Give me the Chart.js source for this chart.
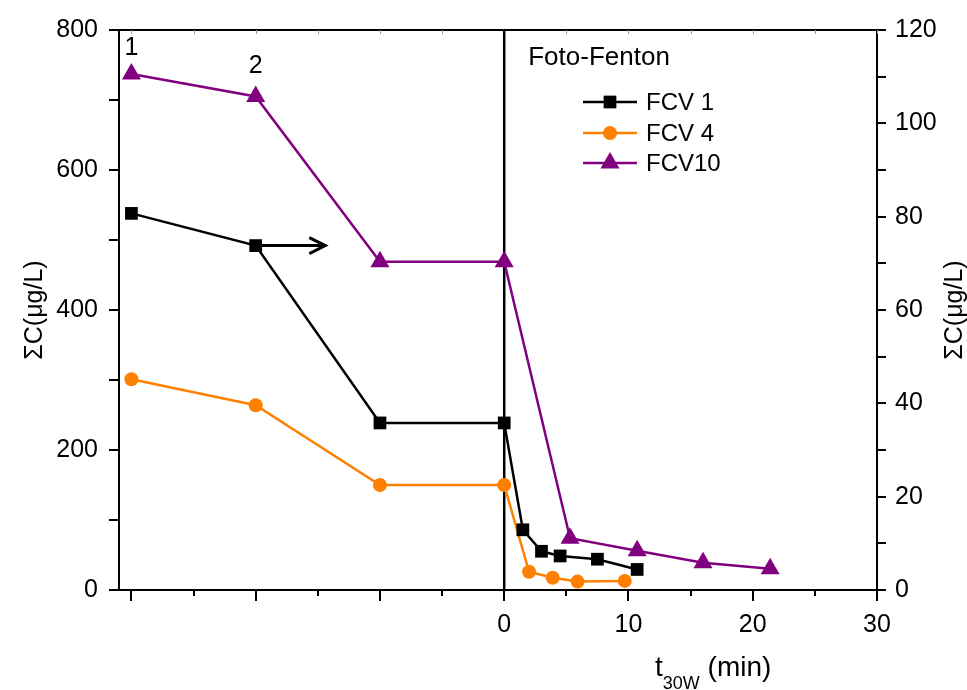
<!DOCTYPE html>
<html>
<head>
<meta charset="utf-8">
<script src="https://cdn.jsdelivr.net/npm/chart.js@4.4.0/dist/chart.umd.min.js"></script>
<style>
  html, body { margin: 0; padding: 0; background: #fff; }
  #wrap { width: 967px; height: 690px; }
</style>
</head>
<body>
<div id="wrap"><canvas id="chart"></canvas></div>
<script>
// series data (x in min, negative side = samples 1, 2, ... before photo-Fenton)
const fcv1X = [-30, -20, -10, 0, 1.5, 3.0, 4.5, 7.5, 10.7];
const fcv1Y = [80.7, 73.8, 35.8, 35.8, 12.9, 8.3, 7.3, 6.6, 4.4];   // right axis
const fcv4X = [-30, -20, -10, 0, 2.0, 3.9, 5.9, 9.7];
const fcv4Y = [301, 264, 150, 150, 26, 17.6, 12, 13];              // left axis
const fcv10X = [-30, -20, -10, 0, 5.3, 10.7, 16.0, 21.4];
const fcv10Y = [737, 705, 469, 469, 74, 56, 39, 30.5];              // left axis

const seriesNames = ['FCV 1', 'FCV 4', 'FCV10'];
const xTicks = [-30, -25, -20, -15, -10, -5, 0, 5, 10, 15, 20, 25, 30];
const xLabelTicks = [0, 10, 20, 30];
const pointLabels = ['1', '2'];
const pointLabelX = [-30, -20];
const pointLabelY = [774, 749];

// colours
const BLACK = '#000000';
const ORANGE = '#FF8000';
const PURPLE = '#800080';

const FONT = "'Liberation Sans', Arial, sans-serif";

function pts(xs, ys) {
  return xs.map((x, i) => ({ x: x, y: ys[i] }));
}

const datasets = [
  { label: seriesNames[0], data: pts(fcv1X, fcv1Y), yAxisID: 'y1',
    borderColor: BLACK, backgroundColor: BLACK, pointStyle: 'rect', pointRadius: 9 },
  { label: seriesNames[1], data: pts(fcv4X, fcv4Y), yAxisID: 'y',
    borderColor: ORANGE, backgroundColor: ORANGE, pointStyle: 'circle', pointRadius: 7 },
  { label: seriesNames[2], data: pts(fcv10X, fcv10Y), yAxisID: 'y',
    borderColor: PURPLE, backgroundColor: PURPLE, pointStyle: 'triangle', pointRadius: 11 }
].map(d => Object.assign(d, { showLine: true, borderWidth: 2.5, pointBorderWidth: 0, tension: 0, fill: false }));

// axes frame, tick marks, vertical line at t = 0
const framePlugin = {
  id: 'frame',
  beforeDatasetsDraw(chart) {
    const ctx = chart.ctx;
    const a = chart.chartArea;
    const sx = chart.scales.x, sy = chart.scales.y, sy1 = chart.scales.y1;
    ctx.save();
    ctx.strokeStyle = BLACK;
    ctx.lineWidth = 2;
    ctx.beginPath();
    ctx.rect(a.left, a.top, a.right - a.left, a.bottom - a.top);
    ctx.stroke();

    // x ticks
    ctx.beginPath();
    xTicks.forEach(v => {
      const px = Math.round(sx.getPixelForValue(v));
      const len = v % 10 === 0 ? 11 : 6;
      ctx.moveTo(px, a.bottom);
      ctx.lineTo(px, a.bottom + len);
    });
    // left ticks
    sy.ticks.forEach(t => {
      const py = Math.round(sy.getPixelForValue(t.value));
      ctx.moveTo(a.left, py);
      ctx.lineTo(a.left - 10, py);
    });
    // right ticks
    sy1.ticks.forEach(t => {
      const py = Math.round(sy1.getPixelForValue(t.value));
      ctx.moveTo(a.right, py);
      ctx.lineTo(a.right + 9, py);
    });
    ctx.stroke();

    // faint inner ticks on top edge
    ctx.strokeStyle = '#999';
    ctx.lineWidth = 1;
    ctx.beginPath();
    xTicks.forEach(v => {
      const px = Math.round(sx.getPixelForValue(v)) + 0.5;
      ctx.moveTo(px, a.top);
      ctx.lineTo(px, a.top + 4);
    });
    ctx.stroke();

    // start of photo-Fenton
    const x0 = sx.getPixelForValue(0);
    ctx.strokeStyle = BLACK;
    ctx.lineWidth = 2.5;
    ctx.beginPath();
    ctx.moveTo(x0, a.top);
    ctx.lineTo(x0, a.bottom);
    ctx.stroke();
    ctx.restore();
  },
  afterDraw(chart) {
    const ctx = chart.ctx;
    const a = chart.chartArea;
    const sx = chart.scales.x, sy = chart.scales.y, sy1 = chart.scales.y1;
    const x0 = sx.getPixelForValue(0);
    ctx.save();
    ctx.fillStyle = BLACK;
    ctx.textBaseline = 'middle';

    // sample numbers
    ctx.font = '25px ' + FONT;
    ctx.textAlign = 'center';
    pointLabels.forEach((s, i) => {
      ctx.fillText(s, sx.getPixelForValue(pointLabelX[i]), sy.getPixelForValue(pointLabelY[i]));
    });

    // arrow: FCV 1 belongs to the right axis
    const ay = sy1.getPixelForValue(fcv1Y[1]);
    const ax1 = sx.getPixelForValue(fcv1X[1]) + 6;
    const ax2 = sx.getPixelForValue(-14.4);
    ctx.strokeStyle = BLACK;
    ctx.lineWidth = 3;
    ctx.beginPath();
    ctx.moveTo(ax1, ay);
    ctx.lineTo(ax2, ay);
    ctx.moveTo(ax2 - 16, ay - 8);
    ctx.lineTo(ax2, ay);
    ctx.lineTo(ax2 - 16, ay + 8);
    ctx.stroke();

    // Foto-Fenton label
    ctx.textAlign = 'left';
    ctx.font = '26px ' + FONT;
    ctx.fillText('Foto-Fenton', x0 + 24, a.top + 28);

    // legend
    const rows = [102, 133, 163];
    ctx.font = '24px ' + FONT;
    datasets.forEach((d, i) => {
      const y = rows[i];
      ctx.strokeStyle = d.borderColor;
      ctx.lineWidth = 2.5;
      ctx.beginPath();
      ctx.moveTo(583, y);
      ctx.lineTo(637, y);
      ctx.stroke();
      ctx.fillStyle = d.backgroundColor;
      Chart.helpers.drawPoint(ctx, { pointStyle: d.pointStyle, radius: d.pointRadius, borderWidth: 0, rotation: 0 }, 610, y);
      ctx.fillStyle = BLACK;
      ctx.fillText(d.label, 646, y + 1);
    });

    // right axis title, reading bottom to top
    ctx.save();
    ctx.translate(955, (a.top + a.bottom) / 2);
    ctx.rotate(-Math.PI / 2);
    ctx.textAlign = 'center';
    ctx.font = '25px ' + FONT;
    ctx.fillText('ΣC(μg/L)', 0, 0);
    ctx.restore();

    // x axis title with subscript
    ctx.textBaseline = 'alphabetic';
    ctx.textAlign = 'left';
    let tx = 655;
    ctx.font = '28px ' + FONT;
    ctx.fillText('t', tx, 676);
    tx += ctx.measureText('t').width;
    ctx.font = '18px ' + FONT;
    ctx.fillText('30W', tx, 689);
    tx += ctx.measureText('30W').width;
    ctx.font = '28px ' + FONT;
    ctx.fillText(' (min)', tx, 676);
    ctx.restore();
  }
};

new Chart(document.getElementById('chart'), {
  type: 'scatter',
  data: { datasets: datasets },
  options: {
    responsive: true,
    maintainAspectRatio: false,
    animation: false,
    devicePixelRatio: 1,
    layout: { padding: { top: 30, left: 0, right: 0, bottom: 0 } },
    plugins: { legend: { display: false }, tooltip: { enabled: false } },
    scales: {
      x: {
        type: 'linear',
        min: -31,
        max: 30,
        afterBuildTicks: s => { s.ticks = xTicks.map(v => ({ value: v })); },
        afterFit: s => { s.height = 100; },
        border: { display: false },
        grid: { drawOnChartArea: false, color: 'rgba(0,0,0,0)', tickLength: 12 },
        ticks: {
          autoSkip: false, maxRotation: 0, padding: 8, color: BLACK,
          font: { family: FONT, size: 25 },
          callback: v => xLabelTicks.includes(v) ? String(v) : ''
        }
      },
      y: {
        position: 'left',
        min: 0,
        max: 800,
        afterFit: s => { s.width = 119; },
        border: { display: false },
        grid: { drawOnChartArea: false, color: 'rgba(0,0,0,0)', tickLength: 10 },
        ticks: {
          stepSize: 100, padding: 11, color: BLACK,
          font: { family: FONT, size: 25 },
          callback: v => v % 200 === 0 ? String(v) : ''
        },
        title: {
          display: true, text: 'ΣC(μg/L)', color: BLACK,
          font: { family: FONT, size: 25, lineHeight: 1 },
          padding: { top: 23, bottom: 0 }
        }
      },
      y1: {
        position: 'right',
        min: 0,
        max: 120,
        afterFit: s => { s.width = 90; },
        border: { display: false },
        grid: { drawOnChartArea: false, color: 'rgba(0,0,0,0)', tickLength: 9 },
        ticks: {
          stepSize: 10, padding: 9, color: BLACK,
          font: { family: FONT, size: 25 },
          callback: v => v % 20 === 0 ? String(v) : ''
        }
      }
    }
  },
  plugins: [framePlugin]
});
</script>
</body>
</html>
